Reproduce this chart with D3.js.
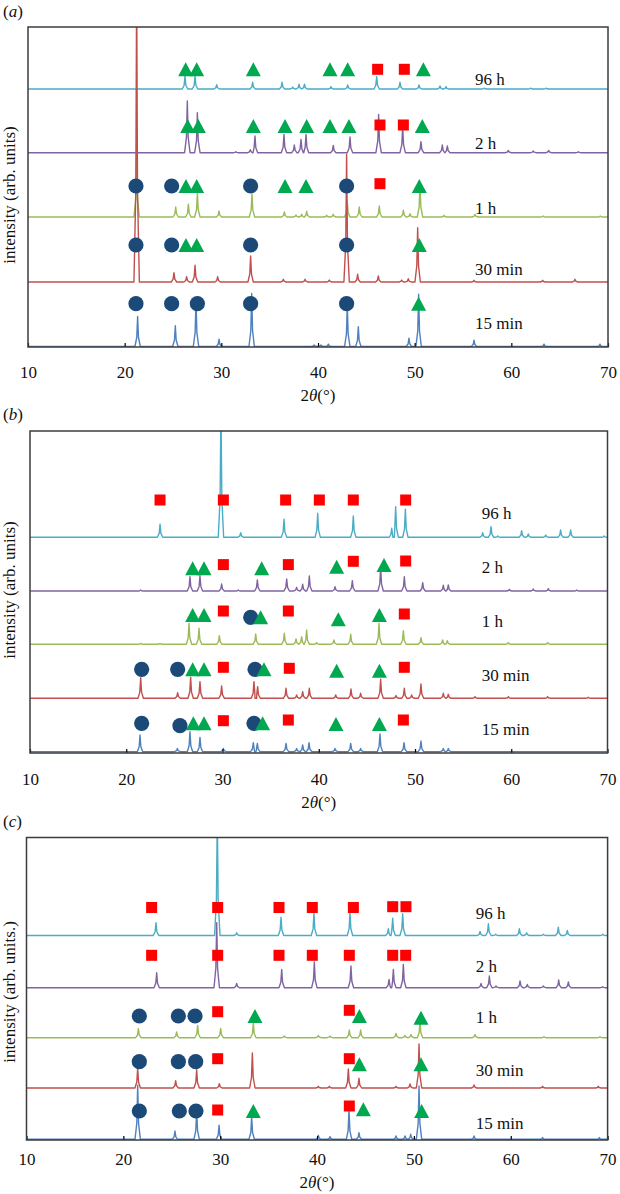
<!DOCTYPE html>
<html><head><meta charset="utf-8">
<script src="https://cdn.jsdelivr.net/npm/d3@7"></script>
<style>
body{margin:0;background:#fff}
svg{display:block}
text{font-family:"Liberation Serif","Times New Roman",serif;fill:#111}
</style>
</head><body>
<svg id="chart" width="620" height="1194"></svg>
<script>
// ---------- DATA ----------
const xTicks = [10, 20, 30, 40, 50, 60, 70];
const seriesNames = ["96 h", "2 h", "1 h", "30 min", "15 min"];

// Panel (a): baseline offsets (a.u.) and peaks [2θ, intensity above baseline]
const offsetsA = [258, 194.3, 130, 65, 0.5];
const peaksA96h = [[26.24,12.7],[27.28,12.7],[29.52,4.3],[33.24,6.7],[36.28,6.7],[37.38,2],[38.04,4.7],[38.6,4.7],[41.34,2.3],[43.07,4],[46.07,12.3],[48.48,6.7],[50.45,4],[52.62,3],[53.24,2.3],[57.2,0.8],[62.0,0.8],[63.6,0.8]];
const peaksA2h = [[26.48,51.7],[27.52,40],[31.5,1],[33.0,3],[33.48,16.7],[36.48,18.3],[37.55,7.7],[38.24,13.3],[38.76,18.3],[41.58,7.3],[43.31,15.7],[46.27,38.3],[48.76,26.7],[50.65,11],[52.86,7.7],[53.38,6.7],[59.69,2.3],[62.27,1.7],[63.86,2.3],[66.93,1]];
const peaksA1h = [[21.24,59.3],[25.28,10],[26.59,12.7],[27.52,24.3],[29.76,6],[33.17,22.7],[36.52,5],[37.72,2],[38.31,2.7],[38.83,5.7],[40.9,1.7],[41.58,2.7],[43.03,15],[44.27,10],[46.34,11],[48.83,6.7],[49.52,3.3],[50.55,32.7],[53.03,1.7],[56.24,2.7],[63.3,1],[69.2,1]];
const peaksA30m = [[21.24,300],[25.1,9.3],[26.41,5.3],[27.28,16.7],[29.62,5.3],[33.03,26],[36.41,2.7],[38.66,2.7],[41.17,2],[42.96,127.7],[44.1,7.7],[46.24,6],[48.65,2],[49.34,3.3],[50.31,54.3],[56.14,1.7],[63.24,1.7],[66.58,2.7]];
const peaksA15m = [[21.34,30],[25.24,20.7],[27.38,47],[29.76,7.3],[33.14,53],[39.6,1.5],[40.3,1.5],[41.07,2.3],[43.03,41.3],[44.17,19.7],[49.41,8.3],[50.41,52.3],[56.14,6.3],[63.38,2.3],[69.17,2.3]];
// phase markers [2θ, level a.u.]
const circlesA = [[21.17,161],[24.86,161],[33.03,161],[42.96,161],[21.17,102],[24.86,102],[33.03,102],[42.96,102],[21.17,43.3],[24.86,43.3],[27.52,43.3],[33.03,43.3],[42.96,43.3]];
const trianglesA = [[26.31,277.7],[27.45,277.7],[33.31,277.7],[41.24,277.7],[43.07,277.7],[50.9,277.7],
  [26.52,221],[27.62,221],[33.31,221],[36.59,221],[38.83,221],[41.24,221],[43.2,221],[50.79,221],
  [26.34,161],[27.45,161],[36.59,161],[38.76,161],[50.48,161],
  [26.34,102],[27.45,102],[50.48,102],[50.41,43.3]];
const squaresA = [[46.17,277.7],[48.93,277.7],[46.41,222],[48.83,222],[46.41,163.3]];
const labelLevelsA = [262.3, 197.7, 133.3, 71.7, 18.3];

// Panel (b)
const offsetsB = [215.7, 162, 108.7, 54.7, 1.3];
const peaksB96h = [[23.51,13],[29.84,130],[31.89,4.7],[36.39,18],[39.89,24],[43.59,21.3],[47.58,9],[47.99,30.7],[49.0,28],[57.03,4.7],[57.9,10.7],[58.59,1.3],[61.08,6.7],[61.77,3.3],[63.58,2.3],[65.13,7.3],[66.17,7.3],[69.64,1.3]];
const peaksB2h = [[21.5,1],[26.62,14.3],[27.66,15.3],[29.91,7],[31.64,1],[33.62,11],[36.67,12],[37.7,3.7],[38.33,6.7],[39.02,15],[41.69,4.3],[43.49,10.3],[46.43,23.7],[48.89,14.3],[50.8,8.3],[52.94,5.7],[53.46,6],[59.8,1.7],[62.29,2],[63.85,2.3],[66.8,1]];
const peaksB1h = [[21.5,1],[23.5,0.8],[26.52,21],[27.56,16],[29.67,8.7],[33.45,10.3],[36.42,11],[37.64,5.3],[38.22,7.7],[38.74,14.3],[39.78,1.7],[41.58,4.3],[43.32,10],[46.26,21],[48.79,13.7],[50.62,6.7],[52.87,4.3],[53.36,3.7],[59.7,1.7],[63.78,1.7]];
const peaksB30m = [[21.5,20.7],[25.34,5.7],[26.69,21],[27.66,16.7],[29.91,12.3],[33.27,16.7],[33.65,11.7],[36.6,10],[37.7,3.3],[38.33,6.7],[39.02,10],[41.76,3.3],[43.35,9.3],[44.35,5],[46.43,19],[48.03,2.7],[48.89,10],[49.65,3.3],[50.62,14.3],[52.94,5],[53.46,4],[56.23,1.7],[59.7,1.7],[63.78,1.7],[68.0,1]];
const peaksB15m = [[21.43,16.7],[25.31,3.3],[26.62,20],[27.66,14.3],[30.09,3.3],[33.2,9],[33.62,8.3],[36.6,8.3],[37.7,3.3],[38.33,6.7],[38.99,9],[41.69,3.3],[43.32,8.3],[44.35,3.3],[46.36,17.7],[48.86,9],[50.62,10.7],[52.94,3.3],[53.46,3.3]];
const circlesB = [[32.93,135.7],[21.6,83.7],[25.34,83.7],[33.38,83.7],[21.6,29.7],[25.58,27.3],[33.27,29.7]];
const trianglesB = [[26.9,184.7],[28.08,184.7],[34.07,184.7],[41.86,186.3],[46.78,188],
  [26.9,138],[28.08,138],[33.96,135.7],[42.03,133.7],[46.3,138],
  [26.9,83.7],[28.08,83.7],[34.31,83.7],[41.86,82.3],[46.3,82.3],
  [26.97,29.7],[28.08,29.7],[34.17,29.7],[41.79,29],[46.3,29]];
const squaresB = [[23.51,253],[30.09,253],[36.56,253],[40.06,253],[43.59,253],[49.03,253],
  [30.09,188.4],[36.84,188.4],[43.59,191.7],[49.03,192],
  [30.09,142],[36.84,142],[48.89,139],
  [30.09,85.7],[36.94,84.7],[48.89,85.7],
  [30.09,32.3],[36.84,33],[48.79,33]];
const labelLevelsB = [233.7, 179.7, 126.3, 72.3, 18];

// Panel (c)
const offsetsC = [204.5, 152.3, 102.3, 52, 0.7];
const peaksC96h = [[23.37,12.7],[29.7,120],[31.7,2.7],[36.28,18.3],[39.68,22],[43.4,22.7],[47.36,6.7],[47.81,17.3],[48.84,21.7],[56.83,4],[57.69,11.7],[58.44,1.3],[60.89,6.7],[61.64,2.7],[63.37,1.3],[64.91,8.3],[65.84,5],[69.49,1.3]];
const peaksC2h = [[23.44,15],[29.64,65],[31.7,4.3],[36.35,18.3],[39.72,25.7],[43.5,21.7],[47.43,8.3],[47.88,18.3],[48.91,23.3],[56.93,4.3],[57.79,11.7],[58.48,1.7],[60.96,6.7],[61.71,3.3],[63.37,1.7],[64.95,7.7],[65.95,5.7],[69.49,1]];
const peaksC1h = [[21.55,9],[25.5,5.7],[27.67,12.3],[30.05,9.3],[33.42,14.3],[36.62,1.7],[40.13,2.3],[41.34,1.7],[43.33,7.7],[44.5,7.7],[48.15,4.3],[49.08,2.3],[49.7,3.3],[50.63,16.7],[56.31,3.3],[63.43,1],[69.21,1]];
const peaksC30m = [[21.48,20],[25.4,7.3],[27.57,18.3],[29.91,4.3],[33.32,35],[40.13,1.7],[41.27,1.7],[43.23,19],[44.33,9.7],[48.15,1.7],[49.6,4],[50.53,44],[56.21,3],[63.29,1.7],[69.04,1.7]];
const peaksC15m = [[21.48,54],[25.33,8.3],[27.57,29.3],[29.88,14],[33.25,22.7],[40.13,4],[41.34,2.7],[43.3,29],[44.33,6.7],[48.15,3.3],[49.08,3.3],[49.67,5],[50.53,53.3],[56.21,3.3],[63.29,1.7],[69.15,1.7]];
const circlesC = [[21.65,124],[25.68,124],[27.4,124],[21.65,78.3],[25.68,78.3],[27.47,78.3],[21.65,29],[25.78,29],[27.5,29]];
const trianglesC = [[33.59,124],[44.37,124],[50.73,122.3],[44.37,75.7],[50.73,75.7],[33.42,29],[44.78,30.7],[50.8,29]];
const squaresC = [[22.92,232.5],[29.74,232.5],[36.07,232.5],[39.51,232.5],[43.75,232.5],[47.81,233.3],[49.18,233.3],
  [22.92,184.7],[29.74,184.7],[36.07,184.7],[39.51,184.7],[43.33,184.7],[47.81,184.7],[49.15,184.7],
  [29.74,128.3],[43.33,129.7],[29.74,81.3],[43.33,81.3],[29.74,30],[43.33,34]];
const labelLevelsC = [220.7, 168.3, 116.7, 64, 11.3];

// ---------- STYLE / LAYOUT ----------
const lineColors = ["#4bacc6", "#8064a2", "#9bbb59", "#c0504d", "#4f81bd"];
const panels = [
  {tag:"a", left:28, right:608, top:27, bottom:347, yMax:320, tickPad:19, titleY:401, letterY:17, ylab:"intensity (arb. units)", ylabY:195,
   offsets:offsetsA, peaks:[peaksA96h,peaksA2h,peaksA1h,peaksA30m,peaksA15m], circles:circlesA, triangles:trianglesA, squares:squaresA, labelX:56.24, labelLevels:labelLevelsA},
  {tag:"b", left:30, right:607.5, top:431, bottom:753, yMax:322, tickPad:20, titleY:808, letterY:420, ylab:"intensity (arb. units)", ylabY:590,
   offsets:offsetsB, peaks:[peaksB96h,peaksB2h,peaksB1h,peaksB30m,peaksB15m], circles:circlesB, triangles:trianglesB, squares:squaresB, labelX:56.93, labelLevels:labelLevelsB},
  {tag:"c", left:26.5, right:607.6, top:837.5, bottom:1140, yMax:302.5, tickPad:13, titleY:1188, letterY:827, ylab:"intensity (arb. units.)", ylabY:992,
   offsets:offsetsC, peaks:[peaksC96h,peaksC2h,peaksC1h,peaksC30m,peaksC15m], circles:circlesC, triangles:trianglesC, squares:squaresC, labelX:56.38, labelLevels:labelLevelsC}
];

const svg = d3.select("#chart");
const FS = 17;

panels.forEach((p, pi) => {
  const x = d3.scaleLinear().domain([10, 70]).range([p.left, p.right]);
  const y = d3.scaleLinear().domain([0, p.yMax]).range([p.bottom, p.top]);
  const clipId = "clip" + p.tag;
  svg.append("clipPath").attr("id", clipId).append("rect")
    .attr("x", p.left).attr("y", p.top).attr("width", p.right - p.left).attr("height", p.bottom - p.top);

  const g = svg.append("g");
  const traces = g.append("g").attr("clip-path", `url(#${clipId})`);
  const line = d3.line().x(d => x(d[0])).y(d => y(d[1]));
  const hw = 0.28, sh = 0.09;
  p.peaks.forEach((pk, si) => {
    const base = p.offsets[si];
    let pts = [[10, 0], [70, 0]];
    pk.forEach(([pos, h]) => {
      pts.push([pos - hw, 0], [pos - sh, 0.3 * h], [pos, h], [pos + sh, 0.3 * h], [pos + hw, 0]);
    });
    pts.sort((a, b) => a[0] - b[0]);
    pts = pts.map(d => [d[0], d[1] + base]);
    traces.append("path").datum(pts)
      .attr("d", line).attr("fill", "none")
      .attr("stroke", lineColors[si]).attr("stroke-width", 1.4).attr("stroke-linejoin", "round");
  });

  // axis
  const axis = d3.axisBottom(x).tickValues(xTicks).tickSizeInner(-4).tickSizeOuter(0).tickPadding(p.tickPad);
  const ax = g.append("g").attr("transform", `translate(0,${p.bottom})`).call(axis);
  ax.select(".domain").remove();
  ax.selectAll(".tick line").attr("stroke", "#000").attr("stroke-width", 1.2);
  ax.selectAll(".tick text").attr("font-size", FS).attr("font-family", "Liberation Serif").attr("fill", "#111");

  // box
  g.append("rect").attr("x", p.left).attr("y", p.top).attr("width", p.right - p.left).attr("height", p.bottom - p.top)
    .attr("fill", "none").attr("stroke", "#3c3c3c").attr("stroke-width", 1.5);

  // markers
  const mk = g.append("g");
  mk.selectAll("circle.m").data(p.circles).join("circle")
    .attr("cx", d => x(d[0])).attr("cy", d => y(d[1])).attr("r", 7.6).attr("fill", "#1c4a78");
  const tw = 15, th = 14;
  mk.selectAll("path.tri").data(p.triangles).join("path").attr("class", "tri")
    .attr("d", d => { const cx = x(d[0]), cy = y(d[1]); return `M${cx - tw/2},${cy + th/2}L${cx + tw/2},${cy + th/2}L${cx},${cy - th/2}Z`; })
    .attr("fill", "#00a84f");
  const sq = 11;
  mk.selectAll("rect.sq").data(p.squares).join("rect").attr("class", "sq")
    .attr("x", d => x(d[0]) - sq/2).attr("y", d => y(d[1]) - sq/2).attr("width", sq).attr("height", sq).attr("fill", "#ff0000");

  // series labels
  g.selectAll("text.lab").data(seriesNames).join("text").attr("class", "lab")
    .attr("x", x(p.labelX)).attr("y", (d, i) => y(p.labelLevels[i]))
    .attr("font-size", FS).text(d => d);

  // x title
  const t = g.append("text").attr("x", (p.left + p.right) / 2).attr("y", p.titleY).attr("text-anchor", "middle").attr("font-size", FS);
  t.append("tspan").text("2");
  t.append("tspan").attr("font-style", "italic").text("θ");
  t.append("tspan").text("(°)");

  // y title
  g.append("text").attr("transform", `translate(15,${p.ylabY}) rotate(-90)`).attr("text-anchor", "middle")
    .attr("font-size", FS).text(p.ylab);

  // panel letter
  const lt = g.append("text").attr("x", 3).attr("y", p.letterY).attr("font-size", FS);
  lt.append("tspan").text("(");
  lt.append("tspan").attr("font-style", "italic").text(p.tag);
  lt.append("tspan").text(")");
});
</script>
</body></html>
